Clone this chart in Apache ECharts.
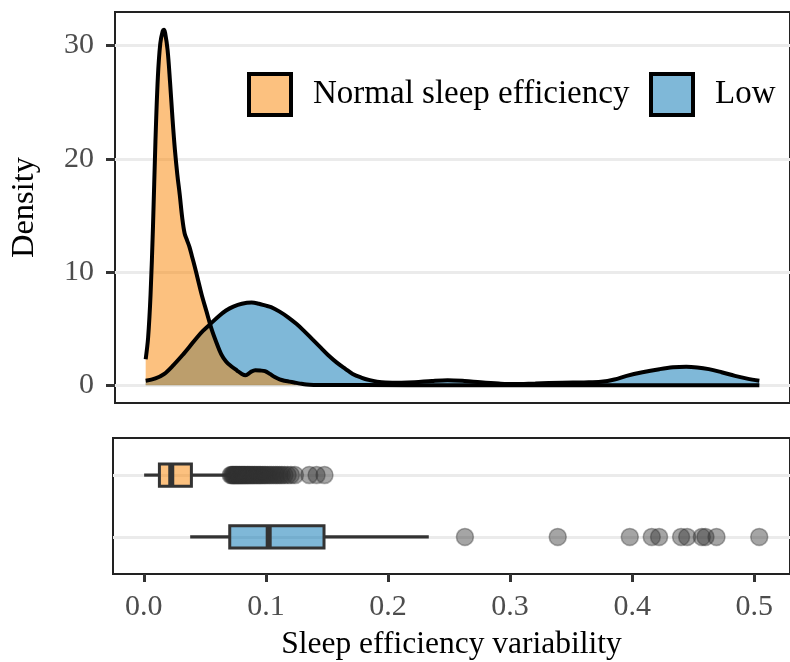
<!DOCTYPE html>
<html>
<head>
<meta charset="utf-8">
<title>Sleep efficiency variability</title>
<script src="https://cdn.jsdelivr.net/npm/echarts@6.0.0/dist/echarts.min.js"></script>
<style>
  html, body { margin: 0; padding: 0; background: #fff; }
  #main { width: 790px; height: 662px; }
</style>
</head>
<body>
<div id="main"></div>
<script>
// density curves
var normalX = [0.000, 0.002, 0.004, 0.006, 0.008, 0.010, 0.012, 0.014, 0.015, 0.016, 0.018, 0.020, 0.022, 0.024, 0.026, 0.028,
  0.030, 0.032, 0.034, 0.036, 0.038, 0.040, 0.043, 0.046, 0.050, 0.054, 0.058, 0.062, 0.066, 0.070, 0.075, 0.079, 0.082,
  0.086, 0.090, 0.094, 0.098, 0.102, 0.106, 0.110, 0.114, 0.118, 0.122, 0.127, 0.132, 0.138, 0.150, 0.180, 0.250, 0.350, 0.450, 0.504];
var normalY = [2.3, 4.2, 8.0, 14.0, 21.5, 27.2, 30.2, 31.3, 31.4, 31.1, 29.6, 26.8, 23.6, 20.8, 18.6, 16.8,
  14.8, 13.4, 12.8, 12.2, 11.4, 10.6, 9.3, 8.0, 6.5, 5.0, 3.8, 2.75, 2.1, 1.7, 1.3, 1.0, 0.88,
  1.15, 1.33, 1.3, 1.24, 1.0, 0.72, 0.52, 0.4, 0.32, 0.24, 0.14, 0.06, 0.03, 0.02, 0.01, 0.0, 0.0, 0.0, 0.0];

var lowX = [0.000, 0.008, 0.015, 0.023, 0.031, 0.036, 0.042, 0.047, 0.053, 0.060, 0.066, 0.072, 0.079, 0.087, 0.093, 0.098,
  0.103, 0.110, 0.117, 0.124, 0.130, 0.137, 0.144, 0.150, 0.157, 0.164, 0.170, 0.177, 0.184, 0.190, 0.197, 0.210, 0.221,
  0.235, 0.248, 0.262, 0.275, 0.290, 0.302, 0.320, 0.342, 0.360, 0.374, 0.385, 0.395, 0.408, 0.422, 0.433, 0.444, 0.453,
  0.4625, 0.473, 0.484, 0.494, 0.504];
var lowY = [0.39, 0.6, 0.98, 1.8, 2.75, 3.4, 4.2, 4.8, 5.4, 6.1, 6.6, 6.95, 7.2, 7.3, 7.2, 7.05,
  6.9, 6.5, 6.0, 5.4, 4.8, 4.05, 3.3, 2.65, 2.0, 1.45, 1.0, 0.68, 0.45, 0.32, 0.24, 0.22, 0.26,
  0.38, 0.45, 0.38, 0.26, 0.15, 0.1, 0.15, 0.22, 0.25, 0.3, 0.5, 0.83, 1.15, 1.42, 1.58, 1.63, 1.57,
  1.42, 1.15, 0.83, 0.58, 0.39];

var yTicks = [0, 10, 20, 30];
var xTicks = [0, 0.1, 0.2, 0.3, 0.4, 0.5];

// box plot stats, row 1 = Low, row 2 = Normal
var boxRow = [1, 2];
var boxMin = [0.038, 0.0003];
var boxQ1 = [0.0704, 0.0128];
var boxMedian = [0.1023, 0.0225];
var boxQ3 = [0.1476, 0.039];
var boxMax = [0.2334, 0.0712];

var normalOutliers = [0.0712, 0.0721, 0.0728, 0.0735, 0.0741, 0.0749, 0.0756, 0.0763, 0.0770, 0.0779, 0.0785, 0.0794,
  0.0802, 0.0810, 0.0818, 0.0826, 0.0833, 0.0845, 0.0852, 0.0861, 0.0870, 0.0882, 0.0891, 0.0903, 0.0912, 0.0925,
  0.0936, 0.0948, 0.0957, 0.0971, 0.0985, 0.0996, 0.1012, 0.1028, 0.1043, 0.1061, 0.1079, 0.1094, 0.1113, 0.1131,
  0.1152, 0.1178, 0.1205, 0.1238, 0.1355, 0.1415, 0.1480];
var lowOutliers = [0.263, 0.339, 0.398, 0.416, 0.422, 0.440, 0.445, 0.457, 0.460, 0.469, 0.504];

var fillNormal = 'rgba(249,132,0,0.5)';
var fillLow = 'rgba(0,114,178,0.5)';
var boxFill = [fillLow, fillNormal];
var font = "'Liberation Serif', 'Times New Roman', serif";

var myChart = echarts.init(document.getElementById('main'));

function renderBox(params, api) {
  var row = api.value(0);
  var lo = api.coord([api.value(1), row]);
  var q1 = api.coord([api.value(2), row]);
  var med = api.coord([api.value(3), row]);
  var q3 = api.coord([api.value(4), row]);
  var hi = api.coord([api.value(5), row]);
  var half = api.size([0, 0.36])[1] / 2;
  var line = { stroke: '#333', lineWidth: 3.2 };
  return {
    type: 'group',
    children: [
      { type: 'line', shape: { x1: lo[0], y1: lo[1], x2: q1[0], y2: q1[1] }, style: line },
      { type: 'line', shape: { x1: q3[0], y1: q3[1], x2: hi[0], y2: hi[1] }, style: line },
      {
        type: 'rect',
        shape: { x: q1[0], y: q1[1] - half, width: q3[0] - q1[0], height: half * 2 },
        style: { fill: boxFill[params.dataIndex], stroke: '#333', lineWidth: 3 }
      },
      { type: 'line', shape: { x1: med[0], y1: med[1] - half, x2: med[0], y2: med[1] + half }, style: { stroke: '#333', lineWidth: 6 } }
    ]
  };
}

var legendBase = {
  orient: 'horizontal',
  top: 72,
  padding: 0,
  itemWidth: 42,
  itemHeight: 41,
  selectedMode: false,
  textStyle: { fontFamily: font, fontSize: 33, color: '#000', padding: [0, 0, 0, 17] }
};

var option = {
  animation: false,
  backgroundColor: '#fff',
  legend: [
    Object.assign({}, legendBase, {
      left: 247,
      data: [{ name: 'Normal sleep efficiency', icon: 'rect', itemStyle: { color: fillNormal, borderColor: '#000', borderWidth: 4 } }]
    }),
    Object.assign({}, legendBase, {
      left: 649,
      data: [{ name: 'Low', icon: 'rect', itemStyle: { color: fillLow, borderColor: '#000', borderWidth: 4 } }]
    })
  ],
  grid: [
    { left: 113, top: 12, width: 690, height: 391, show: true, borderColor: '#222', borderWidth: 2, backgroundColor: 'transparent' },
    { left: 113, top: 438, width: 690, height: 137, show: true, borderColor: '#222', borderWidth: 2, backgroundColor: 'transparent' }
  ],
  xAxis: [
    { gridIndex: 0, type: 'value', min: -0.0252, max: 0.5292, show: false },
    {
      gridIndex: 1, type: 'value', min: -0.0252, max: 0.5292,
      name: 'Sleep efficiency variability', nameLocation: 'middle', nameGap: 55,
      nameTextStyle: { fontFamily: font, fontSize: 31.5, color: '#000' },
      axisLine: { show: false, onZero: false },
      axisTick: { show: true, customValues: xTicks, length: 8, lineStyle: { color: '#333', width: 3 } },
      axisLabel: {
        customValues: xTicks, margin: 18, fontFamily: font, fontSize: 30, color: '#4d4d4d',
        formatter: function (v) { return v.toFixed(1); }
      },
      splitLine: { show: false }
    }
  ],
  yAxis: [
    {
      gridIndex: 0, type: 'value', min: -1.57, max: 32.97,
      name: 'Density', nameLocation: 'middle', nameGap: 74,
      nameTextStyle: { fontFamily: font, fontSize: 32.5, color: '#000' },
      axisLine: { show: false, onZero: false },
      axisTick: { show: true, customValues: yTicks, length: 9, lineStyle: { color: '#333', width: 3 } },
      axisLabel: { customValues: yTicks, margin: 21, fontFamily: font, fontSize: 30, color: '#4d4d4d' },
      splitLine: { show: true, lineStyle: { color: '#ebebeb', width: 3 } }
    },
    {
      gridIndex: 1, type: 'value', min: 0.4, max: 2.6,
      axisLine: { show: false, onZero: false },
      axisTick: { show: false, customValues: boxRow },
      axisLabel: { show: false },
      splitLine: { show: true, lineStyle: { color: '#ebebeb', width: 3 } }
    }
  ],
  series: [
    {
      name: 'Low', type: 'line', xAxisIndex: 0, yAxisIndex: 0,
      data: lowX.map(function (x, i) { return [x, lowY[i]]; }),
      smooth: 0.35, symbol: 'none',
      itemStyle: { color: fillLow },
      lineStyle: { color: '#000', width: 4 },
      areaStyle: { color: fillLow, opacity: 1 }
    },
    {
      name: 'Normal sleep efficiency', type: 'line', xAxisIndex: 0, yAxisIndex: 0,
      data: normalX.map(function (x, i) { return [x, normalY[i]]; }),
      smooth: 0.35, symbol: 'none',
      itemStyle: { color: fillNormal },
      lineStyle: { color: '#000', width: 4 },
      areaStyle: { color: fillNormal, opacity: 1 }
    },
    {
      type: 'custom', xAxisIndex: 1, yAxisIndex: 1,
      renderItem: renderBox,
      encode: { x: [1, 2, 3, 4, 5], y: 0 },
      data: boxRow.map(function (r, i) { return [r, boxMin[i], boxQ1[i], boxMedian[i], boxQ3[i], boxMax[i]]; })
    },
    {
      type: 'scatter', xAxisIndex: 1, yAxisIndex: 1,
      symbolSize: 17,
      itemStyle: { color: 'rgba(51,51,51,0.55)', borderColor: 'rgba(51,51,51,0.5)', borderWidth: 1.5 },
      data: normalOutliers.map(function (v) { return [v, 2]; }).concat(lowOutliers.map(function (v) { return [v, 1]; }))
    }
  ]
};

myChart.setOption(option);
</script>
</body>
</html>
